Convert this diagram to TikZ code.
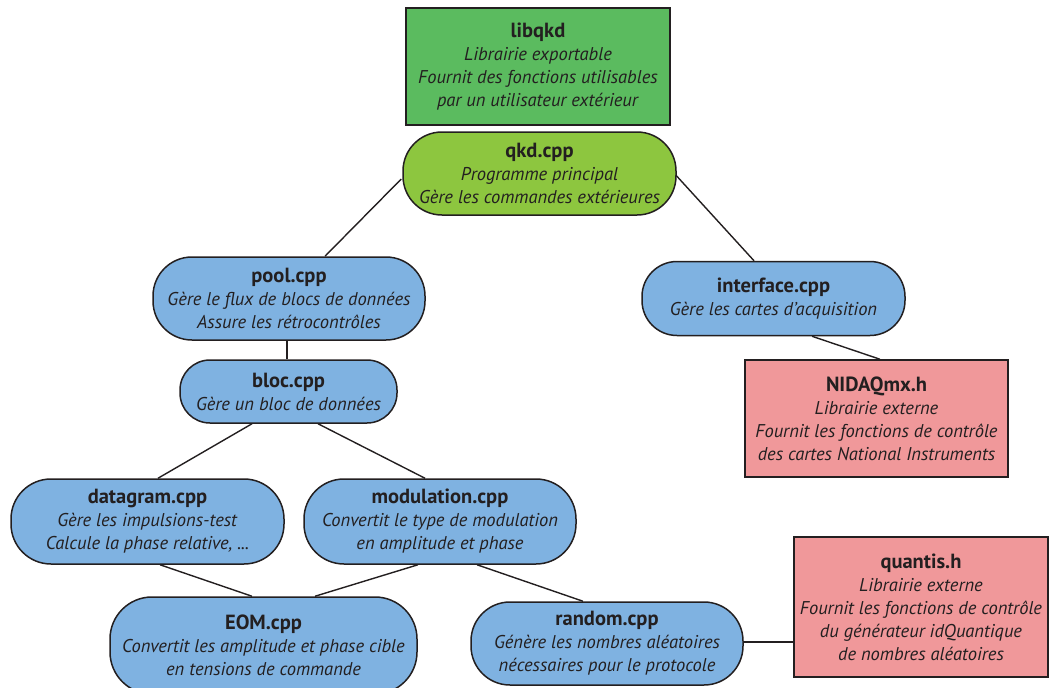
\documentclass[tikz,border=0pt]{standalone}
\usepackage{fontspec}
\setmainfont{PT Sans}
\usetikzlibrary{calc}
\definecolor{bordc}{HTML}{231F20}
\definecolor{libgreen}{HTML}{5BBB5F}
\definecolor{qkdgreen}{HTML}{8DC63F}
\definecolor{modblue}{HTML}{7FB2E1}
\definecolor{extpink}{HTML}{F0989A}
\tikzset{
  box/.style={draw=bordc, line width=1.5pt, text=bordc, align=center, inner sep=0pt,
    font=\fontsize{18.5}{23}\selectfont},
  pill/.style={box, rounded corners=#1, fill=modblue},
  libbox/.style={box, fill=libgreen},
  extbox/.style={box, fill=extpink},
  link/.style={draw=bordc, line width=1.4pt},
}
\newcommand{\ttl}[1]{{\fontsize{20.5}{23}\selectfont\textbf{#1}}}
\begin{document}
\begin{tikzpicture}[x=1pt,y=-1pt]
\useasboundingbox (0,0) rectangle (1050,688);

\node[libbox, minimum width=264pt, minimum height=117pt] (libqkd) at (538,66.5)
  {\ttl{libqkd}\\ \textit{Librairie exportable}\\ \textit{Fournit des fonctions utilisables}\\ \textit{par un utilisateur extérieur}};

\node[pill=39pt, fill=qkdgreen, minimum width=273pt, minimum height=83pt] (qkd) at (539.5,173.5)
  {\ttl{qkd.cpp}\\ \textit{Programme principal}\\ \textit{Gère les commandes extérieures}};

\node[pill=39pt, minimum width=272pt, minimum height=83pt] (pool) at (289,298.5)
  {\ttl{pool.cpp}\\ \textit{Gère le flux de blocs de données}\\ \textit{Assure les rétrocontrôles}};

\node[pill=35pt, minimum width=263pt, minimum height=74pt] (interface) at (773.5,298.5)
  {\ttl{interface.cpp}\\ \textit{Gère les cartes d'acquisition}};

\node[extbox, minimum width=263pt, minimum height=117pt] (nidaq) at (876.5,418.5)
  {\ttl{NIDAQmx.h}\\ \textit{Librairie externe}\\ \textit{Fournit les fonctions de contrôle}\\ \textit{des cartes National Instruments}};

\node[pill=30pt, minimum width=217pt, minimum height=63pt] (bloc) at (288.5,391.5)
  {\ttl{bloc.cpp}\\ \textit{Gère un bloc de données}};

\node[pill=40pt, minimum width=273pt, minimum height=85pt] (datagram) at (147.5,521.5)
  {\ttl{datagram.cpp}\\ \textit{Gère les impulsions-test}\\ \textit{Calcule la phase relative, ...}};

\node[pill=40pt, minimum width=272pt, minimum height=85pt] (modulation) at (440,521.5)
  {\ttl{modulation.cpp}\\ \textit{Convertit le type de modulation}\\ \textit{en amplitude et phase}};

\node[pill=42pt, minimum width=307pt, minimum height=97pt] (eom) at (263.5,645.5)
  {\ttl{EOM.cpp}\\ \textit{Convertit les amplitude et phase cible}\\ \textit{en tensions de commande}};

\node[pill=39pt, minimum width=272pt, minimum height=83pt] (random) at (607,643.5)
  {\ttl{random.cpp}\\ \textit{Génère les nombres aléatoires}\\ \textit{nécessaires pour le protocole}};

\node[extbox, minimum width=254pt, minimum height=140pt] (quantis) at (921,607)
  {\ttl{quantis.h}\\ \textit{Librairie externe}\\ \textit{Fournit les fonctions de contrôle}\\ \textit{du générateur idQuantique}\\ \textit{de nombres aléatoires}};

\coordinate (rq) at ($(random.east)+(0,-1.5)$);
\draw[link] ($(qkd.west)+(-1,5.5)$) -- ($(pool.north)+(36,0)$);
\draw[link] ($(qkd.east)+(-1,1.5)$) -- ($(interface.north)+(-19.5,0)$);
\draw[link] ($(pool.south)+(-2,0)$) -- ($(bloc.north)+(-1.5,0)$);
\draw[link] ($(bloc.south)+(-36.5,0)$) -- ($(datagram.north)+(10.5,0)$);
\draw[link] ($(bloc.south)+(29.5,0)$) -- ($(modulation.north)+(-15,0)$);
\draw[link] ($(datagram.south)+(12.5,0)$) -- ($(eom.north)+(-11.5,0)$);
\draw[link] ($(modulation.south)+(-22,0)$) -- ($(eom.north)+(51.5,0)$);
\draw[link] ($(modulation.south)+(37,0)$) -- ($(random.north)+(-24,0)$);
\draw[link] ($(interface.south)+(38.5,0)$) -- ($(nidaq.north)+(3.5,0)$);
\draw[link] (rq) -- (rq -| quantis.west);
\end{tikzpicture}
\end{document}
